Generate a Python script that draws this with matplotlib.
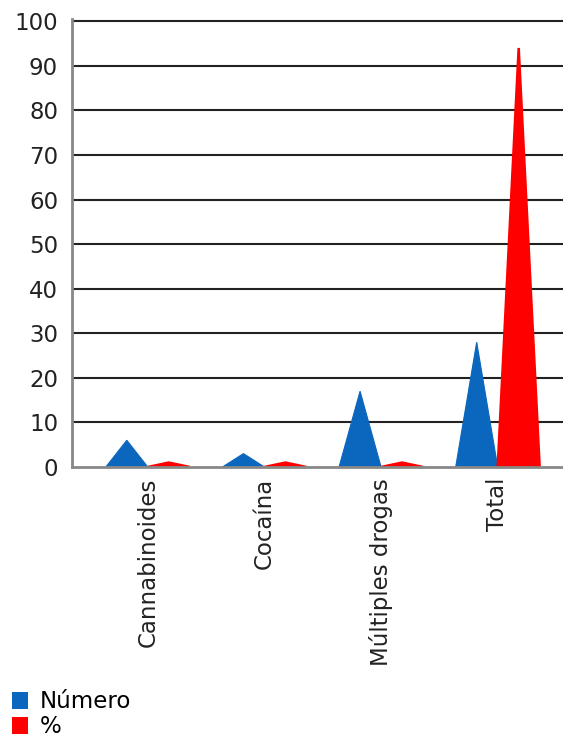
import matplotlib
matplotlib.use("Agg")
import matplotlib.pyplot as plt
from matplotlib.patches import Polygon, Patch

categories = ["Cannabinoides", "Cocaína", "Múltiples drogas", "Total"]
numero = [6, 3, 17, 28]
pct = [1, 1, 1, 94]
series_names = ["Número", "%"]
yticks = [0, 10, 20, 30, 40, 50, 60, 70, 80, 90, 100]

blue = "#0b67bd"
red = "#ff0000"
FS = 16.5

fig = plt.figure(figsize=(5.63, 7.49), dpi=100)
ax = fig.add_axes([72/563, 1-467/749, 1-72/563, (467-19)/749])

w = 0.36
for i, (a, b) in enumerate(zip(numero, pct)):
    ax.add_patch(Polygon([(i - w, 0), (i - w/2, a), (i, 0)], closed=True,
                         facecolor=blue, edgecolor=blue, lw=0.8, zorder=3))
    ax.add_patch(Polygon([(i, 0), (i + w/2, b), (i + w, 0)], closed=True,
                         facecolor=red, edgecolor=red, lw=1.8, joinstyle="miter", zorder=3))

ax.set_xlim(-0.65, 3.56)
ax.set_ylim(0, 100.5)
ax.set_yticks(yticks)
ax.set_yticklabels([str(t) for t in yticks], fontsize=FS, color="#222222")
for t in yticks[1:]:
    ax.axhline(t, color="#222222", lw=1.5, zorder=1)
ax.set_xticks(range(len(categories)))
ax.set_xticklabels(categories, rotation=90, fontsize=FS, color="#222222")
ax.tick_params(axis="y", length=0, pad=10)
ax.tick_params(axis="x", length=0, pad=8)
for s in ["top", "right"]:
    ax.spines[s].set_visible(False)
ax.spines["left"].set_color("#888888")
ax.spines["left"].set_linewidth(2)
ax.spines["bottom"].set_color("#888888")
ax.spines["bottom"].set_linewidth(2)
ax.spines["bottom"].set_zorder(4)

handles = [Patch(facecolor=blue, edgecolor="none"), Patch(facecolor=red, edgecolor="none")]
fig.legend(handles, series_names, loc="upper left", bbox_to_anchor=(3/563, 1-681/749),
           frameon=False, fontsize=FS, handlelength=0.7, handleheight=0.75,
           handletextpad=0.5, labelspacing=0.1, borderaxespad=0.0)

fig.savefig("out.png", dpi=100)
